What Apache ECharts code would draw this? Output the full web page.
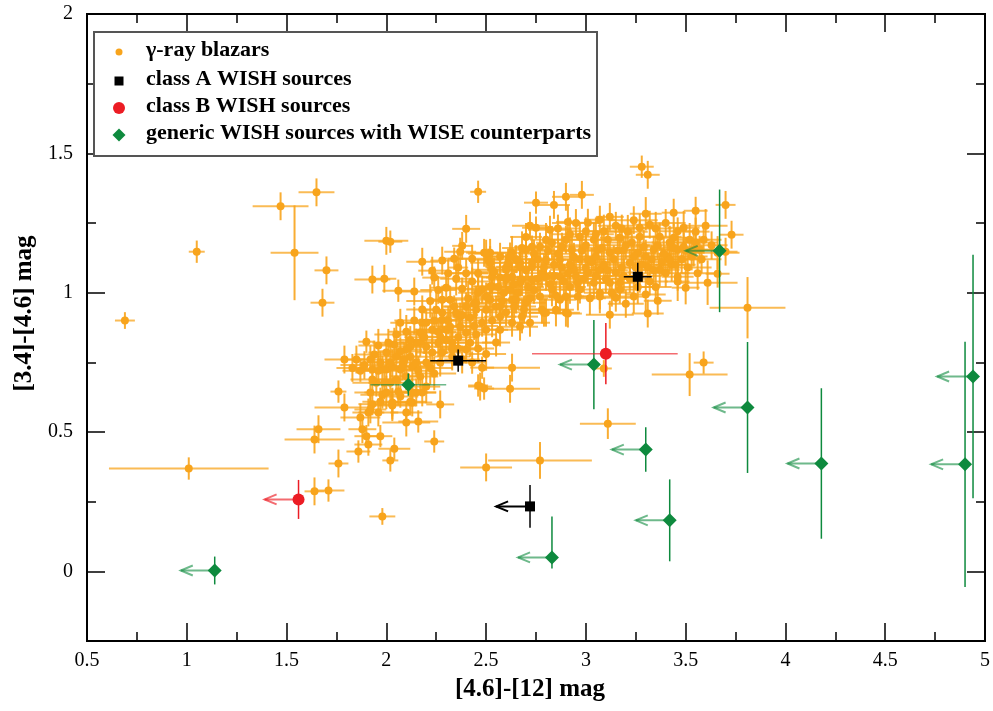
<!DOCTYPE html>
<html>
<head>
<meta charset="utf-8">
<script src="https://cdn.jsdelivr.net/npm/echarts@6/dist/echarts.min.js"></script>
<style>
html,body{margin:0;padding:0;background:#fff;}
#chart{width:993px;height:711px;}
</style>
</head>
<body>
<div id="chart"></div>
<script>
// ---- tick values ----
const xMajor = [0.5, 1, 1.5, 2, 2.5, 3, 3.5, 4, 4.5, 5];
const xMinor = [0.75, 1.25, 1.75, 2.25, 2.75, 3.25, 3.75, 4.25, 4.75];
const yMajor = [0, 0.5, 1, 1.5, 2];
const yMinor = [-0.25, 0.25, 0.75, 1.25, 1.75];

const legendLabels = ["\u03b3-ray blazars", "class A WISH sources", "class B WISH sources", "generic WISH sources with WISE counterparts"];

// ---- gamma-ray blazars: [x, y, xerr, yerr] ----
const blazars = [
[0.69,0.90,0.05,0.03],[1.05,1.147,0.04,0.04],[1.47,1.31,0.14,0.05],[1.65,1.36,0.09,0.05],
[1.54,1.143,0.12,0.17],[1.70,1.08,0.06,0.05],[1.68,0.964,0.06,0.05],[1.01,0.369,0.40,0.04],
[1.64,0.287,0.05,0.05],[1.71,0.29,0.08,0.04],[1.76,0.387,0.05,0.05],[1.64,0.473,0.15,0.05],
[1.66,0.51,0.11,0.05],[1.76,0.645,0.04,0.04],[1.79,0.588,0.15,0.05],[1.86,0.43,0.06,0.04],
[1.79,0.76,0.10,0.05],[1.83,0.73,0.08,0.05],[1.87,0.72,0.09,0.04],[1.85,0.76,0.06,0.05],
[1.87,0.552,0.10,0.05],[1.88,0.51,0.07,0.05],[1.98,0.197,0.065,0.03],[2.24,0.466,0.05,0.04],
[2.02,0.398,0.04,0.04],[2.04,0.44,0.08,0.04],[1.91,0.455,0.07,0.04],[1.97,0.485,0.06,0.04],
[1.90,0.485,0.06,0.04],[1.91,0.57,0.08,0.05],[1.96,0.57,0.10,0.05],[2.10,0.57,0.08,0.04],
[2.10,0.534,0.12,0.05],[2.16,0.538,0.10,0.04],[2.03,0.595,0.12,0.05],[1.93,0.60,0.07,0.04],
[2.50,0.373,0.13,0.05],[2.77,0.398,0.26,0.066],[2.62,0.655,0.15,0.05],[2.47,0.663,0.06,0.05],
[2.49,0.656,0.05,0.04],[3.81,0.946,0.19,0.11],[3.09,0.728,0.04,0.03],[3.52,0.706,0.19,0.077],
[3.59,0.749,0.05,0.04],[3.11,0.53,0.14,0.055],[3.28,1.452,0.06,0.04],[3.31,1.423,0.06,0.05],
[2.46,1.362,0.04,0.04],[2.00,1.186,0.11,0.05],[2.02,1.183,0.06,0.04],[2.40,1.229,0.07,0.05],
[2.38,1.168,0.05,0.05],[2.18,1.111,0.08,0.05],[2.28,1.115,0.06,0.05],[2.34,1.122,0.07,0.04],
[2.43,1.122,0.12,0.05],[2.49,1.143,0.07,0.05],[2.51,1.118,0.06,0.04],[2.23,1.079,0.07,0.05],
[2.24,1.054,0.06,0.04],[1.93,1.047,0.09,0.05],[1.99,1.05,0.06,0.05],[2.06,1.007,0.08,0.04],
[2.14,1.004,0.09,0.05],[2.07,0.892,0.05,0.05],[1.90,0.824,0.04,0.04],[2.36,1.09,0.05,0.05],
[2.37,1.147,0.08,0.05],
[2.30,1.018,0.08,0.05],[2.38,1.014,0.10,0.04],[2.28,0.975,0.07,0.05],[2.28,0.928,0.09,0.06],
[2.34,0.95,0.06,0.04],[2.40,0.95,0.11,0.05],[2.45,0.964,0.07,0.06],[2.50,0.986,0.09,0.05],
[2.55,0.95,0.06,0.04],[2.62,1.011,0.12,0.05],[2.68,1.047,0.08,0.06],[2.60,1.09,0.10,0.05],
[2.67,1.107,0.07,0.04],[2.73,1.093,0.09,0.05],[2.75,1.323,0.06,0.04],[2.84,1.315,0.08,0.05],
[2.90,1.344,0.07,0.05],[2.91,1.254,0.06,0.06],[2.72,1.24,0.09,0.05],[2.75,1.233,0.07,0.04],
[2.82,1.226,0.11,0.05],[2.80,1.19,0.08,0.06],[2.88,1.165,0.10,0.05],[2.93,1.154,0.07,0.05],
[2.73,1.165,0.09,0.04],[2.63,1.057,0.11,0.05],[2.53,1.057,0.08,0.06],[2.90,0.928,0.07,0.05],
[2.78,0.939,0.12,0.05],[2.68,0.914,0.08,0.06],[2.63,0.892,0.10,0.05],[2.55,0.821,0.07,0.05],
[2.48,0.731,0.06,0.04],[2.63,0.731,0.14,0.05],[2.46,0.667,0.05,0.04],[2.40,0.796,0.09,0.05],
[2.33,0.796,0.07,0.06],[2.27,0.842,0.11,0.05],[2.18,0.892,0.08,0.05],[2.23,0.867,0.09,0.06],
[2.30,0.867,0.12,0.05],[2.37,0.914,0.07,0.05],[2.17,0.821,0.10,0.05],[2.10,0.796,0.08,0.06],
[2.05,0.771,0.12,0.05],[2.00,0.785,0.09,0.05],[1.97,0.749,0.10,0.04],[1.93,0.724,0.08,0.05],
[2.00,0.724,0.13,0.06],[2.07,0.724,0.09,0.05],[2.13,0.735,0.11,0.05],[2.20,0.749,0.08,0.06],
[2.27,0.749,0.10,0.05],[2.33,0.771,0.09,0.05],[2.43,0.749,0.07,0.04],[1.95,0.677,0.12,0.05],
[2.02,0.677,0.09,0.06],[1.92,0.642,0.08,0.05],[1.98,0.634,0.11,0.05],[2.07,0.627,0.09,0.04],
[2.18,0.642,0.07,0.05],[2.13,0.606,0.10,0.05],[2.03,0.606,0.08,0.05],
[2.98,1.351,0.06,0.05],[3.70,1.315,0.05,0.05],[3.55,1.294,0.06,0.05],[3.44,1.287,0.06,0.05],
[3.30,1.283,0.08,0.06],[3.12,1.272,0.07,0.05],[3.07,1.262,0.08,0.05],[3.01,1.251,0.06,0.05],
[3.73,1.208,0.06,0.05],[3.49,1.233,0.08,0.06],[3.32,1.244,0.09,0.05],[3.27,1.233,0.07,0.05],
[3.21,1.219,0.10,0.06],[3.55,1.219,0.07,0.05],[3.59,1.19,0.09,0.05],[3.52,1.19,0.10,0.06],
[3.44,1.197,0.08,0.05],[3.37,1.201,0.11,0.05],[3.27,1.201,0.09,0.06],[3.17,1.197,0.10,0.05],
[3.11,1.19,0.08,0.05],[3.04,1.19,0.12,0.06],[2.97,1.201,0.09,0.05],[2.90,1.19,0.10,0.05],
[2.83,1.179,0.08,0.06],[2.77,1.165,0.11,0.05],[2.70,1.154,0.09,0.05],[2.63,1.143,0.10,0.06],
[2.57,1.129,0.08,0.05],[2.52,1.143,0.12,0.05],
[3.46,1.154,0.09,0.05],[3.54,1.154,0.10,0.06],[3.41,1.129,0.08,0.05],[3.34,1.154,0.11,0.05],
[3.26,1.143,0.09,0.06],[3.19,1.154,0.12,0.05],[3.12,1.143,0.08,0.05],[3.06,1.154,0.10,0.06],
[3.01,1.118,0.09,0.05],[2.94,1.129,0.11,0.05],[2.87,1.118,0.08,0.06],[2.80,1.118,0.10,0.05],
[2.73,1.107,0.09,0.05],[2.67,1.093,0.12,0.06],[2.60,1.082,0.08,0.05],[2.53,1.082,0.10,0.05],
[3.43,1.100,0.09,0.06],[3.46,1.057,0.08,0.05],[3.46,1.04,0.06,0.07],[3.32,1.04,0.09,0.05],
[3.37,1.082,0.10,0.06],[3.31,1.093,0.08,0.05],[3.22,1.107,0.11,0.05],[3.15,1.072,0.09,0.06],
[3.07,1.082,0.10,0.05],[3.01,1.072,0.08,0.05],[2.94,1.082,0.12,0.06],[2.87,1.057,0.09,0.05],
[2.80,1.057,0.10,0.05],[2.73,1.047,0.08,0.06],[2.67,1.036,0.11,0.05],[2.60,1.047,0.09,0.05],
[2.53,1.022,0.10,0.06],[2.48,1.011,0.08,0.05],[3.50,1.018,0.07,0.06],[3.61,1.036,0.15,0.08],
[3.66,1.068,0.06,0.05],[3.36,0.971,0.07,0.05],[3.31,0.925,0.08,0.05],[3.24,0.986,0.07,0.06],
[3.17,1.011,0.09,0.05],[3.12,0.921,0.12,0.05],[3.07,1.00,0.08,0.06],[2.97,1.011,0.10,0.05],
[2.90,0.986,0.09,0.05],[2.83,1.011,0.11,0.06],[2.77,0.986,0.08,0.05],[2.70,0.964,0.10,0.05],
[2.63,0.975,0.09,0.06],[2.57,0.95,0.12,0.05],[2.50,0.939,0.08,0.05],[2.91,0.925,0.07,0.05],
[2.85,0.939,0.09,0.06],[2.79,0.928,0.08,0.05],[2.72,0.892,0.10,0.05],[2.57,0.867,0.09,0.06],
[2.50,0.867,0.11,0.05],
[2.50,1.14,0.09,0.05],[2.52,1.107,0.10,0.06],[2.61,1.107,0.08,0.05],[2.54,1.075,0.12,0.05],
[2.57,1.054,0.09,0.06],[2.60,1.054,0.10,0.05],[2.52,1.022,0.08,0.05],[2.52,0.975,0.11,0.06],
[2.45,0.939,0.09,0.05],[2.65,0.975,0.10,0.05],[2.57,0.914,0.08,0.06],[2.48,0.892,0.12,0.05],
[2.67,0.878,0.09,0.05],[2.40,0.857,0.10,0.06],[2.33,0.821,0.08,0.05],[2.37,0.878,0.11,0.05],
[2.28,0.903,0.09,0.06],[2.80,0.928,0.10,0.05],[2.87,0.975,0.08,0.05],
[3.29,1.165,0.09,0.06],[3.49,1.165,0.10,0.05],[3.57,1.154,0.08,0.05],[3.66,1.143,0.11,0.06],
[3.42,1.118,0.09,0.05],[3.12,1.036,0.10,0.05],[3.04,1.036,0.08,0.06],[2.96,1.036,0.12,0.05],
[3.17,1.036,0.09,0.05],[3.07,0.986,0.10,0.06],[2.96,0.986,0.08,0.05],[3.15,0.982,0.09,0.05],
[3.30,0.993,0.10,0.06],[3.70,1.147,0.06,0.05],
[1.94,0.778,0.10,0.05],[2.04,0.814,0.09,0.06],[2.12,0.806,0.11,0.05],[2.17,0.857,0.08,0.05],
[2.32,0.878,0.10,0.06],[2.35,0.928,0.09,0.05],[2.32,0.975,0.12,0.05],[2.25,0.939,0.08,0.06],
[2.20,0.892,0.10,0.05],[2.15,0.821,0.09,0.05],[2.20,0.806,0.11,0.06],[2.23,0.785,0.08,0.05],
[2.28,0.785,0.10,0.05],[2.33,0.806,0.09,0.06],[2.08,0.735,0.12,0.05],[2.15,0.749,0.08,0.05],
[2.03,0.735,0.10,0.06],[1.98,0.724,0.09,0.05],[1.93,0.688,0.11,0.05],[1.99,0.677,0.08,0.06],
[2.05,0.688,0.10,0.05],[2.17,0.699,0.09,0.05],[2.20,0.663,0.07,0.06],[2.15,0.642,0.10,0.05],
[2.12,0.609,0.08,0.05],[2.00,0.642,0.11,0.06],[1.97,0.609,0.09,0.05],[1.92,0.581,0.08,0.05],
[2.03,0.599,0.10,0.06],[2.27,0.599,0.07,0.05],[2.06,0.645,0.09,0.05],[2.13,0.642,0.08,0.05],
[2.65,1.12,0.10,0.05],[2.70,1.08,0.09,0.06],[2.76,1.12,0.11,0.05],[2.78,1.07,0.08,0.05],
[2.84,1.10,0.10,0.06],[2.86,1.14,0.09,0.05],[2.92,1.10,0.12,0.05],[2.95,1.06,0.08,0.06],
[2.98,1.15,0.10,0.05],[3.03,1.11,0.09,0.05],[3.05,1.13,0.11,0.06],[3.09,1.10,0.08,0.05],
[3.14,1.12,0.10,0.05],[3.18,1.09,0.09,0.06],[3.20,1.17,0.12,0.05],[3.24,1.13,0.08,0.05],
[3.28,1.10,0.10,0.06],[3.33,1.12,0.09,0.05],[3.36,1.17,0.11,0.05],[3.39,1.14,0.08,0.06],
[3.44,1.16,0.10,0.05],[3.48,1.12,0.09,0.05],[3.51,1.09,0.12,0.06],[3.53,1.13,0.08,0.05],
[2.99,1.05,0.10,0.05],[2.89,1.04,0.09,0.06],[2.82,1.03,0.11,0.05],[2.74,1.01,0.08,0.05],
[2.66,1.00,0.10,0.06],[2.59,1.00,0.09,0.05],[2.85,0.99,0.12,0.05],[3.02,0.98,0.08,0.06],
[3.10,1.05,0.10,0.05],[3.22,1.05,0.09,0.05],[3.27,1.06,0.11,0.06],[2.69,0.94,0.08,0.05],
[2.60,0.93,0.10,0.05],[2.53,0.90,0.09,0.06],[2.44,0.88,0.12,0.05],[2.42,0.91,0.08,0.05],
[2.46,1.00,0.10,0.06],[2.43,1.04,0.09,0.05],[2.40,1.07,0.11,0.05],[2.35,1.05,0.08,0.06],
[2.31,1.07,0.10,0.05],[2.26,1.01,0.09,0.05],[2.22,0.97,0.12,0.06],[2.18,0.94,0.08,0.05],
[2.14,0.90,0.10,0.05],[2.10,0.86,0.09,0.06],[2.05,0.85,0.11,0.05],[2.01,0.82,0.08,0.05],
[1.96,0.81,0.10,0.06],[1.92,0.76,0.09,0.05],[1.89,0.74,0.12,0.05],[2.09,0.76,0.08,0.06],
[2.12,0.77,0.10,0.05],[2.16,0.72,0.09,0.05],[2.24,0.71,0.11,0.06],[2.26,0.82,0.08,0.05],
[2.30,0.83,0.10,0.05],[2.36,0.84,0.09,0.06],[2.42,0.82,0.12,0.05],[2.46,0.80,0.08,0.05],
[2.50,0.78,0.10,0.06],[2.38,0.76,0.09,0.05],[2.24,0.90,0.11,0.05],[2.41,0.98,0.08,0.06],
[2.46,1.07,0.10,0.05],[2.56,1.02,0.09,0.05],[2.64,1.03,0.12,0.06],[2.71,1.02,0.08,0.05],
[2.79,1.09,0.10,0.05],[2.92,1.21,0.09,0.06],[2.86,1.23,0.11,0.05],[3.00,1.22,0.08,0.05],
[3.09,1.22,0.10,0.06],[3.15,1.24,0.09,0.05],[3.24,1.26,0.12,0.05],[3.35,1.23,0.08,0.06],
[3.40,1.25,0.10,0.05],[3.46,1.22,0.09,0.05],[3.60,1.24,0.11,0.06],[3.63,1.17,0.08,0.05],
[3.58,1.12,0.10,0.05],[3.56,1.07,0.09,0.06],[3.40,1.07,0.12,0.05],[3.35,1.02,0.08,0.05],
[3.26,1.02,0.10,0.06],[3.20,0.96,0.09,0.05],[3.13,1.00,0.11,0.05],
[2.62,1.13,0.09,0.05],[2.68,1.16,0.10,0.06],[2.74,1.14,0.08,0.05],[2.81,1.15,0.11,0.05],
[2.88,1.09,0.09,0.06],[2.91,1.07,0.10,0.05],[2.97,1.12,0.08,0.05],[3.00,1.17,0.12,0.06],
[3.08,1.16,0.09,0.05],[3.11,1.08,0.10,0.05],[3.16,1.15,0.08,0.06],[3.23,1.18,0.11,0.05],
[3.25,1.09,0.09,0.05],[3.30,1.13,0.10,0.06],[3.34,1.08,0.08,0.05],[3.38,1.11,0.12,0.05],
[3.42,1.18,0.09,0.06],[3.45,1.10,0.10,0.05],[3.50,1.15,0.08,0.05],[3.55,1.18,0.11,0.06],
[2.76,1.05,0.09,0.05],[2.84,1.06,0.10,0.05],[2.92,1.02,0.08,0.06],[3.00,1.09,0.11,0.05],
[3.05,1.06,0.09,0.05],[3.19,1.06,0.10,0.06],[2.70,1.20,0.08,0.05],[2.95,1.25,0.12,0.05],
[3.05,1.21,0.09,0.06],[3.18,1.23,0.10,0.05],[2.58,0.97,0.08,0.05],[2.64,0.95,0.11,0.06],
[2.72,0.98,0.09,0.05],[2.44,0.96,0.10,0.05],[2.38,0.92,0.08,0.06],[2.31,0.90,0.12,0.05],
[2.26,0.86,0.09,0.05],[2.19,0.84,0.10,0.06],[2.12,0.83,0.08,0.05],[2.07,0.79,0.11,0.05],
[2.02,0.75,0.09,0.06],[1.96,0.72,0.10,0.05],[2.10,0.70,0.08,0.05],[2.22,0.73,0.11,0.06],
[2.36,0.80,0.09,0.05],[2.45,0.85,0.10,0.05]
];

// ---- WISH sources: [x, y, xerrLow, xerrHigh, yerrLow, yerrHigh, upperLimitArrowTo (0 = none)] ----
const classA = [
  [2.36, 0.756, 0.14, 0.14, 0.04, 0.04, 0],
  [3.26, 1.057, 0.07, 0.07, 0.05, 0.05, 0],
  [2.72, 0.233, 0, 0, 0.077, 0.077, 2.55]
];
const classB = [
  [1.56, 0.258, 0, 0, 0.07, 0.07, 1.39],
  [3.10, 0.781, 0.37, 0.36, 0.11, 0.11, 0]
];
const generic = [
  [1.14, 0.003, 0, 0, 0.05, 0.05, 0.97],
  [2.11, 0.670, 0.19, 0.19, 0.04, 0.04, 0],
  [2.83, 0.050, 0, 0, 0.04, 0.147, 2.66],
  [3.04, 0.742, 0, 0, 0.16, 0.16, 2.87],
  [3.30, 0.437, 0, 0, 0.08, 0.08, 3.13],
  [3.42, 0.183, 0, 0, 0.147, 0.147, 3.25],
  [3.67, 1.150, 0, 0, 0.22, 0.22, 3.50],
  [3.81, 0.588, 0, 0, 0.235, 0.235, 3.64],
  [4.18, 0.387, 0, 0, 0.27, 0.27, 4.01],
  [4.90, 0.384, 0, 0, 0.44, 0.44, 4.73],
  [4.94, 0.699, 0, 0, 0.437, 0.437, 4.76]
];

const ORANGE = '#f8a41c', BLACK = '#000000', RED = '#ec1c24', GREEN = '#0e8a3e';
const FONT = '"Liberation Serif", "Times New Roman", serif';

function blazarErr(params, api) {
  const x = api.value(0), y = api.value(1), xe = api.value(2), ye = api.value(3);
  const a = api.coord([x - xe, y]), b = api.coord([x + xe, y]);
  const c = api.coord([x, y - ye]), d = api.coord([x, y + ye]);
  return {type: 'group', children: [
    {type: 'line', shape: {x1: a[0], y1: a[1], x2: b[0], y2: b[1]}, style: {stroke: ORANGE, lineWidth: 2, opacity: 0.75}},
    {type: 'line', shape: {x1: c[0], y1: c[1], x2: d[0], y2: d[1]}, style: {stroke: ORANGE, lineWidth: 2, opacity: 0.9}}
  ]};
}

function wishErr(color, hOpacity, vWidth) {
  return function (params, api) {
    const x = api.value(0), y = api.value(1);
    const xl = api.value(2), xh = api.value(3), yl = api.value(4), yh = api.value(5), lim = api.value(6);
    const kids = [];
    const c = api.coord([x, y - yl]), d = api.coord([x, y + yh]);
    kids.push({type: 'line', shape: {x1: c[0], y1: c[1], x2: d[0], y2: d[1]}, style: {stroke: color, lineWidth: vWidth}});
    if (lim && lim > 0) {
      const p = api.coord([x, y]), t = api.coord([lim, y]);
      kids.push({type: 'line', shape: {x1: p[0], y1: p[1], x2: t[0], y2: t[1]}, style: {stroke: color, lineWidth: 2, opacity: hOpacity}});
      kids.push({type: 'polyline', shape: {points: [[t[0] + 12, t[1] - 5], [t[0], t[1]], [t[0] + 12, t[1] + 5]]}, style: {stroke: color, lineWidth: 2, fill: null, opacity: hOpacity}});
    } else if (xl > 0 || xh > 0) {
      const a = api.coord([x - xl, y]), b = api.coord([x + xh, y]);
      kids.push({type: 'line', shape: {x1: a[0], y1: a[1], x2: b[0], y2: b[1]}, style: {stroke: color, lineWidth: vWidth, opacity: hOpacity}});
    }
    return {type: 'group', children: kids};
  };
}

const axisLineStyle = {color: '#000', width: 2};
function xAx(pos, ticks, len, labels) {
  return {
    type: 'value', position: pos, min: 0.5, max: 5,
    axisLine: {show: true, onZero: false, lineStyle: axisLineStyle},
    axisTick: {show: true, inside: true, length: len, customValues: ticks, lineStyle: {color: '#000', width: 1.5}},
    axisLabel: labels ? {show: true, customValues: ticks, color: '#000', fontFamily: FONT, fontSize: 20, margin: 10} : {show: false},
    splitLine: {show: false}
  };
}
function yAx(pos, ticks, len, labels) {
  return {
    type: 'value', position: pos, min: -0.25, max: 2,
    axisLine: {show: true, onZero: false, lineStyle: axisLineStyle},
    axisTick: {show: true, inside: true, length: len, customValues: ticks, lineStyle: {color: '#000', width: 1.5}},
    axisLabel: labels ? {show: true, customValues: ticks, color: '#000', fontFamily: FONT, fontSize: 20, margin: 14} : {show: false},
    splitLine: {show: false}
  };
}

const xAxes = [xAx('bottom', xMajor, 18, true), xAx('bottom', xMinor, 9, false), xAx('top', xMajor, 18, false), xAx('top', xMinor, 9, false)];
const yAxes = [yAx('left', yMajor, 18, true), yAx('left', yMinor, 9, false), yAx('right', yMajor, 18, false), yAx('right', yMinor, 9, false)];
xAxes[0].name = '[4.6]-[12] mag';
xAxes[0].nameLocation = 'middle';
xAxes[0].nameGap = 36;
xAxes[0].nameTextStyle = {fontFamily: FONT, fontSize: 25, fontWeight: 'bold', color: '#000', padding: [0, 12, 0, 0]};
yAxes[0].name = '[3.4]-[4.6] mag';
yAxes[0].nameLocation = 'middle';
yAxes[0].nameGap = 46;
yAxes[0].nameTextStyle = {fontFamily: FONT, fontSize: 25, fontWeight: 'bold', color: '#000', padding: [0, 0, 0, 28]};

// legend drawn as graphic
const legX = 94, legY = 32, legW = 503, legH = 124;
const rowY = [52, 81, 108, 135];
const legendGraphic = [
  {type: 'rect', shape: {x: legX, y: legY, width: legW, height: legH}, style: {fill: '#fff', stroke: '#555', lineWidth: 2}, z: 100},
  {type: 'circle', shape: {cx: 119, cy: rowY[0], r: 3.5}, style: {fill: ORANGE}, z: 101},
  {type: 'rect', shape: {x: 114.5, y: rowY[1] - 4.5, width: 9, height: 9}, style: {fill: BLACK}, z: 101},
  {type: 'circle', shape: {cx: 119, cy: rowY[2], r: 6}, style: {fill: RED}, z: 101},
  {type: 'polygon', shape: {points: [[119, rowY[3] - 6.5], [125.5, rowY[3]], [119, rowY[3] + 6.5], [112.5, rowY[3]]]}, style: {fill: GREEN}, z: 101}
];
legendLabels.forEach(function (t, i) {
  legendGraphic.push({type: 'text', x: 146, y: rowY[i] - 2, z: 101,
    style: {text: t, fill: '#000', font: 'bold 22px ' + FONT, textVerticalAlign: 'middle', textAlign: 'left'}});
});

const chart = echarts.init(document.getElementById('chart'), null, {renderer: 'canvas'});
chart.setOption({
  animation: false,
  backgroundColor: '#fff',
  grid: {left: 87, right: 8, top: 14, bottom: 70},
  xAxis: xAxes,
  yAxis: yAxes,
  graphic: legendGraphic,
  series: [
    {type: 'custom', name: 'blazarErr', renderItem: blazarErr, data: blazars, encode: {x: 0, y: 1}, clip: true, silent: true, z: 2},
    {type: 'scatter', name: legendLabels[0], data: blazars.map(r => [r[0], r[1]]), symbol: 'circle', symbolSize: 8, itemStyle: {color: ORANGE, opacity: 1}, z: 3, silent: true},
    {type: 'custom', name: 'genericErr', renderItem: wishErr(GREEN, 0.6, 1.5), data: generic, encode: {x: 0, y: 1}, clip: true, silent: true, z: 4},
    {type: 'scatter', name: legendLabels[3], data: generic.map(r => [r[0], r[1]]), symbol: 'diamond', symbolSize: 14, itemStyle: {color: GREEN, opacity: 1}, z: 5, silent: true},
    {type: 'custom', name: 'classAErr', renderItem: wishErr(BLACK, 1, 1.5), data: classA, encode: {x: 0, y: 1}, clip: true, silent: true, z: 6},
    {type: 'scatter', name: legendLabels[1], data: classA.map(r => [r[0], r[1]]), symbol: 'rect', symbolSize: 10, itemStyle: {color: BLACK, opacity: 1}, z: 7, silent: true},
    {type: 'custom', name: 'classBErr', renderItem: wishErr(RED, 0.65, 1.5), data: classB, encode: {x: 0, y: 1}, clip: true, silent: true, z: 8},
    {type: 'scatter', name: legendLabels[2], data: classB.map(r => [r[0], r[1]]), symbol: 'circle', symbolSize: 12, itemStyle: {color: RED, opacity: 1}, z: 9, silent: true}
  ]
});
</script>
</body>
</html>
